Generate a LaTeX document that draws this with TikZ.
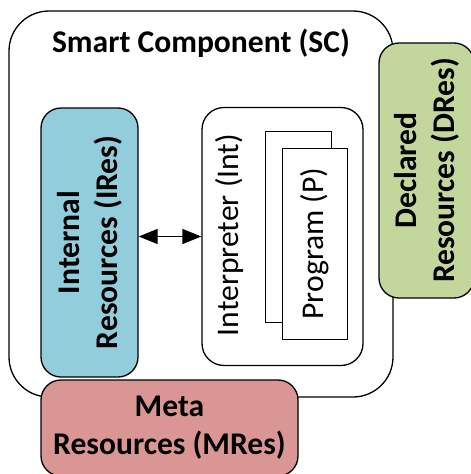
\documentclass[tikz,border=0pt]{standalone}
\usepackage{fontspec}
\setmainfont{Carlito}
\usetikzlibrary{arrows.meta}
\definecolor{iresblue}{RGB}{146,205,220}
\definecolor{dresgreen}{RGB}{195,214,155}
\definecolor{mresred}{RGB}{217,150,148}

\tikzset{
  box/.style={draw, line width=1.3pt, rounded corners=#1},
  box/.default=20pt,
  lbl/.style={font=\fontsize{31.6}{38}\selectfont\bfseries, align=center},
  plain/.style={font=\fontsize{31.6}{38}\selectfont, align=center},
  head/.tip={Triangle[length=19pt,width=15pt]}
}

\begin{document}
\begin{tikzpicture}[x=1pt, y=1pt]
  \clip (0,0) rectangle (471,-474); % page size

  % smart component (outer box)
  \node[box=40pt, fill=white, minimum width=384pt, minimum height=386pt] (SC) at (201,-204) {};
  \node[lbl] (SCtext) at (201,-43) {Smart Component (SC)};

  % internal resources
  \node[box, fill=iresblue, minimum width=97pt, minimum height=269pt] (IRes) at (89.5,-242.5) {};
  \node[lbl, rotate=90] (IResText) at (IRes) {Internal\\Resources (IRes)};

  % interpreter with program
  \node[box=22pt, fill=white, minimum width=161pt, minimum height=258pt] (Int) at (282.5,-236.5) {};
  \node[plain, rotate=90] (IntText) at (229,-235) {Interpreter (Int)};
  \node[draw, line width=1pt, fill=white, minimum width=66pt, minimum height=191pt] (Pback) at (298,-226.5) {};
  \node[draw, line width=1pt, fill=white, minimum width=65pt, minimum height=191pt] (P) at (314.5,-243.5) {};
  \node[plain, rotate=90] (PText) at (P) {Program (P)};

  \draw[head-head, line width=1.3pt]
    (Int.west -| IRes.east) -- (Int.west); % IRes <-> Int

  % declared resources
  \node[box, fill=dresgreen, minimum width=95pt, minimum height=255pt] (DRes) at (426.5,-170.5) {};
  \node[lbl, rotate=90] (DResText) at (DRes) {Declared\\Resources (DRes)};

  % meta resources
  \node[box, fill=mresred, minimum width=257pt, minimum height=96pt] (MRes) at (169.5,-428) {};
  \node[lbl] (MResText) at (MRes) {Meta\\Resources (MRes)};
\end{tikzpicture}
\end{document}
